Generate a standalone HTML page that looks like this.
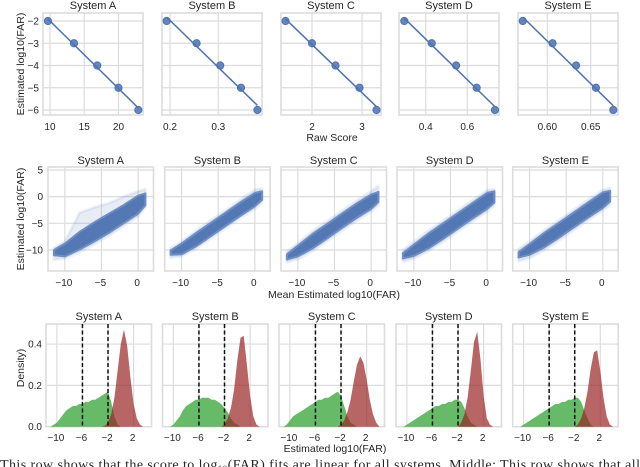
<!DOCTYPE html>
<html><head><meta charset="utf-8">
<style>
html,body{margin:0;padding:0;background:#fff;width:640px;height:467px;overflow:hidden}
svg text{font-family:"Liberation Sans",sans-serif;fill:#262626}
</style></head>
<body>
<svg id="fig" width="640" height="467" viewBox="0 0 640 467" xmlns="http://www.w3.org/2000/svg"></svg>
<script>
// ---------- data ----------
const systems = ["System A","System B","System C","System D","System E"];
const rawScoresA = [9.7,13.5,16.9,20.0,22.9];
const rawScoresB = [0.193,0.255,0.304,0.347,0.381];
const rawScoresC = [1.47,2.0,2.47,2.95,3.29];
const rawScoresD = [0.297,0.429,0.546,0.645,0.733];
const rawScoresE = [0.5717,0.606,0.6331,0.656,0.676];
const logFar = [-2,-3,-4,-5,-6];
const topXDomains = [[8.98,23.58],[0.1834,0.3905],[1.38,3.38],[0.2716,0.7524],[0.5662,0.6814]];
const topXTicks = [[10,15,20],[0.2,0.3],[2,3],[0.4,0.6],[0.60,0.65]];
const topXTickLabels = [["10","15","20"],["0.2","0.3"],["2","3"],["0.4","0.6"],["0.60","0.65"]];
const topYTicks = [-2,-3,-4,-5,-6];
// middle row: scatter envelopes
const scatX = [-11.5,-10,-8,-6,-4,-2,0,1];
const coreLoA = [-11,-11.2,-9.9,-8.4,-6.8,-5.0,-3.2,-1.6];
const coreHiA = [-10,-8.8,-6.6,-4.8,-3.2,-1.6,0.2,0.6];
const haloLoA = [-11.8,-11.6,-10.4,-8.9,-7.3,-5.5,-3.7,-2];
const haloHiA = [-9.6,-8.4,-3.0,-2.0,-1.2,0,1,1.4];
const coreLoB = [-10.9,-10.8,-9.3,-7.4,-5.5,-3.6,-1.8,-0.6];
const coreHiB = [-10.1,-8.8,-6.8,-4.9,-3.0,-1.1,0.7,1.0];
const haloLoB = [-11.4,-11.2,-9.7,-7.8,-5.9,-4.0,-2.3,-1];
const haloHiB = [-9.7,-8.4,-6.4,-4.4,-2.6,-0.6,1.3,1.5];
const coreLoC = [-11.8,-11.2,-9.7,-7.8,-5.9,-4.0,-2.3,-1.0];
const coreHiC = [-10.8,-9.2,-7.0,-5.1,-3.2,-1.3,0.4,0.9];
const haloLoC = [-12.3,-11.7,-10.2,-8.3,-6.4,-4.5,-2.8,-1.6];
const haloHiC = [-10.3,-8.7,-6.5,-4.6,-2.7,-0.8,1.0,2.0];
const coreLoD = [-11.6,-11.1,-9.7,-7.9,-6.0,-4.1,-2.3,-1.1];
const coreHiD = [-10.6,-9.0,-6.9,-5.0,-3.1,-1.2,0.7,1.0];
const haloLoD = [-12.2,-11.6,-10.2,-8.4,-6.5,-4.6,-2.8,-1.6];
const haloHiD = [-10.0,-8.5,-6.4,-4.5,-2.6,-0.7,1.2,1.4];
const coreLoE = [-11.4,-10.9,-9.5,-7.7,-5.8,-3.9,-2.1,-0.9];
const coreHiE = [-10.4,-8.9,-6.8,-4.9,-3.0,-1.1,0.8,1.1];
const haloLoE = [-12.1,-11.5,-10.0,-8.2,-6.3,-4.4,-2.6,-1.5];
const haloHiE = [-9.8,-8.4,-6.3,-4.4,-2.5,-0.6,1.3,1.6];
const midXTicks = [-10,-5,0];
const midYTicks = [5,0,-5,-10];
// bottom row: histograms, bins centered at -11..4 step 0.5
const binStart = -11, binWidth = 0.5;
const greenA = [0,0.01,0.02,0.04,0.06,0.08,0.09,0.10,0.10,0.11,0.11,0.12,0.12,0.13,0.13,0.14,0.15,0.16,0.17,0.12,0.05,0.01,0,0,0,0,0,0,0,0,0];
const redA   = [0,0,0,0,0,0,0,0,0,0,0,0,0,0,0,0,0,0.005,0.02,0.06,0.14,0.27,0.40,0.47,0.39,0.24,0.11,0.04,0.01,0,0];
const greenB = [0,0,0.01,0.03,0.05,0.08,0.10,0.11,0.12,0.13,0.13,0.14,0.14,0.14,0.13,0.13,0.12,0.11,0.09,0.07,0.04,0.02,0.01,0,0,0,0,0,0,0,0];
const redB   = [0,0,0,0,0,0,0,0,0,0,0,0,0,0,0,0,0,0,0.01,0.04,0.09,0.18,0.32,0.43,0.44,0.30,0.15,0.05,0.01,0,0];
const greenC = [0,0.01,0.03,0.05,0.06,0.07,0.08,0.09,0.10,0.11,0.12,0.13,0.13,0.14,0.14,0.15,0.16,0.17,0.15,0.10,0.05,0.02,0.01,0,0,0,0,0,0,0,0];
const redC   = [0,0,0,0,0,0,0,0,0,0,0,0,0,0,0,0,0,0,0.01,0.03,0.07,0.13,0.22,0.30,0.34,0.31,0.23,0.13,0.06,0.02,0];
const greenD = [0,0,0.01,0.02,0.03,0.04,0.05,0.06,0.07,0.08,0.09,0.10,0.10,0.11,0.11,0.12,0.12,0.13,0.13,0.12,0.09,0.05,0.02,0.01,0,0,0,0,0,0,0];
const redD   = [0,0,0,0,0,0,0,0,0,0,0,0,0,0,0,0,0,0,0,0.02,0.06,0.14,0.27,0.41,0.46,0.33,0.15,0.04,0.01,0,0];
const greenE = [0,0,0.01,0.02,0.03,0.04,0.05,0.06,0.07,0.08,0.09,0.10,0.11,0.11,0.12,0.12,0.13,0.13,0.14,0.14,0.12,0.08,0.04,0.01,0,0,0,0,0,0,0];
const redE   = [0,0,0,0,0,0,0,0,0,0,0,0,0,0,0,0,0,0,0,0.01,0.04,0.09,0.17,0.28,0.36,0.37,0.27,0.14,0.05,0.01,0];
const thresholds = [-6,-2];
const botXTicks = [-10,-6,-2,2];
const botYTicks = [0,0.2,0.4];

// ---------- drawing ----------
const NS = "http://www.w3.org/2000/svg";
const svg = document.getElementById("fig");
function mk(tag, attrs, parent){
  const e = document.createElementNS(NS, tag);
  for (const k in attrs) e.setAttribute(k, attrs[k]);
  (parent||svg).appendChild(e);
  return e;
}
function lin(d0,d1,r0,r1){ return v => r0 + (v-d0)/(d1-d0)*(r1-r0); }
function fmtNeg(v){ return (v<0?"\u2212":"") + Math.abs(v); }
const GRID = "#dcdcdc";

function panelFrame(g, L, T, W, H){
  const r = mk("rect",{x:L,y:T,width:W,height:H,fill:"none",stroke:GRID,"stroke-width":1.6},g);
  
  
}
function title(g, txt, cx, y){
  const t = mk("text",{x:cx,y:y,"text-anchor":"middle","font-size":11},g);
  t.textContent = txt;
  
  
}

// TOP ROW
const topLefts = [43,162,281,399,518];
const topRaw = [rawScoresA,rawScoresB,rawScoresC,rawScoresD,rawScoresE];
const tT = 13, tB = 115, tW = 100;
const yTop = lin(-2,-6,21,110);
systems.forEach((name,i)=>{
  const L = topLefts[i];
  const g = mk("g",{});
  
  
  const xs = lin(topXDomains[i][0],topXDomains[i][1],L,L+tW);
  topXTicks[i].forEach((v,j)=>{
    mk("line",{x1:xs(v),x2:xs(v),y1:tT,y2:tB,stroke:GRID,"stroke-width":1.2},g);
    const t = mk("text",{x:xs(v),y:130,"text-anchor":"middle","font-size":10},g);
    t.textContent = topXTickLabels[i][j];
    
    
  });
  topYTicks.forEach(v=>{
    mk("line",{x1:L,x2:L+tW,y1:yTop(v),y2:yTop(v),stroke:GRID,"stroke-width":1.2},g);
    if(i===0){
      const t = mk("text",{x:L-4,y:yTop(v)+3.5,"text-anchor":"end","font-size":10},g);
      t.textContent = fmtNeg(v);
      
      
    }
  });
  panelFrame(g,L,tT,tW,tB-tT);
  const xsD = topRaw[i], n = xsD.length;
  const mx = xsD.reduce((a,b)=>a+b,0)/n, my = logFar.reduce((a,b)=>a+b,0)/n;
  let sxy=0,sxx=0; for(let k=0;k<n;k++){sxy+=(xsD[k]-mx)*(logFar[k]-my);sxx+=(xsD[k]-mx)**2;}
  const b = sxy/sxx, a = my - b*mx;
  const x0 = xsD[0], x1 = xsD[n-1];
  const fl = mk("line",{x1:xs(x0),y1:yTop(a+b*x0),x2:xs(x1),y2:yTop(a+b*x1),stroke:"#4c72b0","stroke-width":1.5},g);
  
  
  xsD.forEach((v,k)=>{
    const c = mk("circle",{cx:xs(v),cy:yTop(logFar[k]),r:3.6,fill:"#4c72b0","fill-opacity":0.85,stroke:"#4c72b0"},g);
    
    
  });
  title(g,name,L+tW/2,9);
});
{
  const t = mk("text",{x:332,y:141,"text-anchor":"middle","font-size":10.5});
  t.textContent = "Raw Score";
  
  
  const y = mk("text",{x:0,y:0,"text-anchor":"middle","font-size":10.5,transform:"translate(24,64) rotate(-90)"});
  y.textContent = "Estimated log10(FAR)";
  
  
}

// MIDDLE ROW
const midLefts = [48,164.7,281,397,512.7];
const mT = 167, mB = 271, mW = 105.5;
const yMid = lin(5.56,-13.94,mT,mB);
const cores = [[coreLoA,coreHiA],[coreLoB,coreHiB],[coreLoC,coreHiC],[coreLoD,coreHiD],[coreLoE,coreHiE]];
const halos = [[haloLoA,haloHiA],[haloLoB,haloHiB],[haloLoC,haloHiC],[haloLoD,haloHiD],[haloLoE,haloHiE]];
function band(g, xs, lo, hi, attrs){
  let d = "";
  scatX.forEach((v,k)=>{ d += (k?"L":"M")+xs(v).toFixed(1)+","+yMid(hi[k]).toFixed(1); });
  for(let k=scatX.length-1;k>=0;k--) d += "L"+xs(scatX[k]).toFixed(1)+","+yMid(lo[k]).toFixed(1);
  attrs.d = d+"Z";
  return mk("path",attrs,g);
}
systems.forEach((name,i)=>{
  const L = midLefts[i];
  const g = mk("g",{});
  
  
  const xs = lin(-12.3,2.1,L,L+mW);
  midXTicks.forEach(v=>{
    mk("line",{x1:xs(v),x2:xs(v),y1:mT,y2:mB,stroke:GRID,"stroke-width":1.2},g);
    const t = mk("text",{x:xs(v)-1,y:286,"text-anchor":"middle","font-size":10},g);
    t.textContent = fmtNeg(v);
    
    
  });
  midYTicks.forEach(v=>{
    mk("line",{x1:L,x2:L+mW,y1:yMid(v),y2:yMid(v),stroke:GRID,"stroke-width":1.2},g);
    if(i===0){
      const t = mk("text",{x:L-5,y:yMid(v)+3.5,"text-anchor":"end","font-size":10},g);
      t.textContent = fmtNeg(v);
      
      
    }
  });
  panelFrame(g,L,mT,mW,mB-mT);
  const h = band(g,xs,halos[i][0],halos[i][1],{fill:"#4c72b0","fill-opacity":0.13,stroke:"#4c72b0","stroke-opacity":0.1,"stroke-width":3,"stroke-linejoin":"round"});
  
  
  const c = band(g,xs,cores[i][0],cores[i][1],{fill:"#4c72b0","fill-opacity":0.95,stroke:"#6f8fc4","stroke-width":2,"stroke-linejoin":"round"});
  
  
  title(g,name,L+mW/2,164);
});
{
  const t = mk("text",{x:334,y:298,"text-anchor":"middle","font-size":10.5});
  t.textContent = "Mean Estimated log10(FAR)";
  
  
  const y = mk("text",{x:0,y:0,"text-anchor":"middle","font-size":10.5,transform:"translate(24,219) rotate(-90)"});
  y.textContent = "Estimated log10(FAR)";
  
  
}

// BOTTOM ROW
const botLefts = [46,162.5,279,396,512.7];
const bT = 324, bB = 426.7, bW = 105.5;
const yBot = lin(0,0.497,bB,bT);
const greens = [greenA,greenB,greenC,greenD,greenE];
const reds = [redA,redB,redC,redD,redE];
function hist(g, xs, vals, attrs, nm){
  let d = "M"+xs(binStart-binWidth/2).toFixed(1)+","+bB;
  vals.forEach((v,k)=>{
    d += "L"+xs(binStart+k*binWidth).toFixed(1)+","+yBot(v).toFixed(1);
  });
  d += "L"+xs(binStart+(vals.length-0.5)*binWidth).toFixed(1)+","+bB+"Z";
  attrs.d = d;
  const p = mk("path",attrs,g);
  
  
}
systems.forEach((name,i)=>{
  const L = botLefts[i];
  const g = mk("g",{});
  
  
  const xs = lin(-11.7,4.8,L,L+bW);
  botXTicks.forEach(v=>{
    mk("line",{x1:xs(v),x2:xs(v),y1:bT,y2:bB,stroke:GRID,"stroke-width":1.2},g);
    const t = mk("text",{x:xs(v)-1,y:441,"text-anchor":"middle","font-size":10},g);
    t.textContent = fmtNeg(v);
    
    
  });
  botYTicks.forEach(v=>{
    mk("line",{x1:L,x2:L+bW,y1:yBot(v),y2:yBot(v),stroke:GRID,"stroke-width":1.2},g);
    if(i===0){
      const t = mk("text",{x:L-4,y:yBot(v)+3.5,"text-anchor":"end","font-size":10},g);
      t.textContent = v.toFixed(1);
      
      
    }
  });
  panelFrame(g,L,bT,bW,bB-bT);
  hist(g,xs,greens[i],{fill:"#2ca02c","fill-opacity":0.72},'genuine-histogram');
  hist(g,xs,reds[i],{fill:"#9a2424","fill-opacity":0.7},'impostor-histogram');
  thresholds.forEach(v=>{
    const l = mk("line",{x1:xs(v),x2:xs(v),y1:bT,y2:bB,stroke:"#111","stroke-width":1.5,"stroke-dasharray":"4,2.5"},g);
    
    
  });
  title(g,name,L+bW/2,320);
});
{
  const t = mk("text",{x:335,y:452,"text-anchor":"middle","font-size":10.5});
  t.textContent = "Estimated log10(FAR)";
  
  
  const y = mk("text",{x:0,y:0,"text-anchor":"middle","font-size":10.5,transform:"translate(24,368) rotate(-90)"});
  y.textContent = "Density)";
  
  
  const c = mk("text",{x:0,y:469,"font-size":14,style:"font-family:'Liberation Serif',serif",fill:"#111",textLength:640,lengthAdjust:"spacing"});
  c.innerHTML = 'This row shows that the score to log<tspan font-size="9" dy="3">10</tspan><tspan dy="-3">(FAR) fits are linear for all systems. Middle: This row shows that all</tspan>';
  
  
}
</script>
</body></html>
